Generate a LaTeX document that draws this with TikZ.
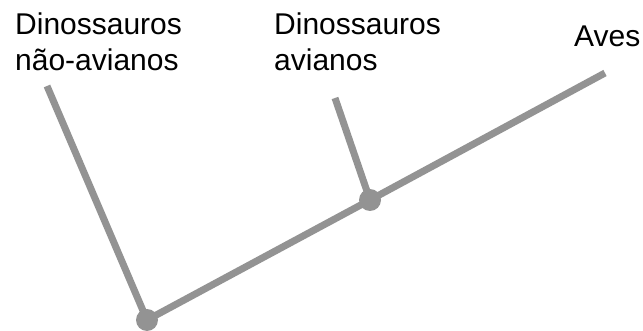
\documentclass[tikz,border=0pt]{standalone}
\usepackage{fontspec}
\setmainfont{Liberation Sans}
\usepackage{tikz}
\usetikzlibrary{positioning}
\definecolor{branch}{HTML}{939393}

\begin{document}
\begin{tikzpicture}[x=1pt,y=-1pt,
    label/.style={anchor=base west,inner sep=0pt,font=\fontsize{30}{36}\selectfont},
    knot/.style={circle,fill=branch,inner sep=0pt,minimum size=22pt}]
  \useasboundingbox (0,0) rectangle (643,331);

  % Labels
  \node[label] (nonavian) at (15,35) {Dinossauros};
  \node[label] (nonavian2) at (15,71) {não-avianos};
  \node[label] (avian) at (274,35) {Dinossauros};
  \node[label] (avian2) at (274,71) {avianos};
  \node[label] (aves) at (574,47) {Aves};

  % Tips and nodes
  \coordinate (tipA) at (47,86);
  \coordinate (tipB) at (335,98);
  \coordinate (tipC) at (605,73);
  \node[knot] (root) at (147,320) {};
  \node[knot] (split) at (370,200) {};

  % Branches
  \draw[branch, line width=7pt] (tipA) -- (root.center) -- (split.center) -- (tipC);
  \draw[branch, line width=7pt] (split.center) -- (tipB);
\end{tikzpicture}
\end{document}
